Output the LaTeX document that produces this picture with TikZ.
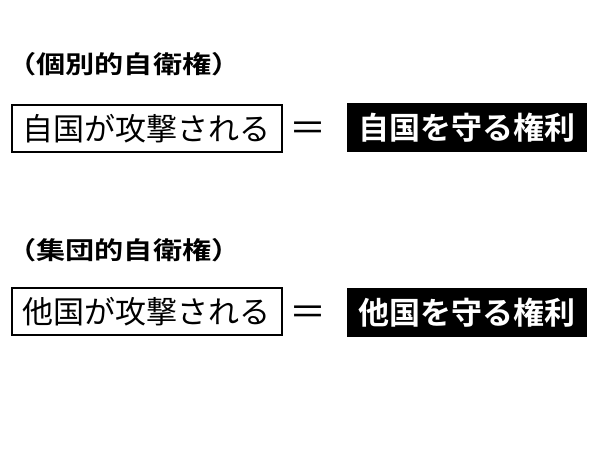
\documentclass[tikz,border=0pt]{standalone}
\usepackage{fontspec}
\newfontfamily\jp[BoldFont={* Bold}]{Noto Sans CJK JP}
\begin{document}
\begin{tikzpicture}[x=1pt,y=-1pt,
  heading/.style={font=\jp\bfseries\fontsize{24.5}{24.5}\selectfont, inner sep=0pt, xscale=1.19, transform shape},
  framebox/.style={draw=black, line width=2pt, minimum width=270pt, minimum height=47pt, inner sep=0pt, font=\jp\fontsize{31}{31}\selectfont},
  blackbox/.style={fill=black, text=white, minimum width=240pt, minimum height=49pt, inner sep=0pt, font=\jp\bfseries\fontsize{31}{31}\selectfont},
  eqsign/.style={inner sep=0pt, font=\jp\fontsize{37}{37}\selectfont}]
\useasboundingbox[fill=white] (0,0) rectangle (600,450);
\node[heading] (h1) at (124,64) {（個別的自衛権）};
\node[framebox] (a1) at (147,128.5) {自国が攻撃される};
\node[eqsign] (e1) at (307.5,132) {＝};
\node[blackbox] (b1) at (467,127.5) {自国を守る権利};
\node[heading] (h2) at (124,250) {（集団的自衛権）};
\node[framebox] (a2) at (147,311.5) {他国が攻撃される};
\node[eqsign] (e2) at (307.5,315.5) {＝};
\node[blackbox] (b2) at (467,312.5) {他国を守る権利};
\end{tikzpicture}
\end{document}
